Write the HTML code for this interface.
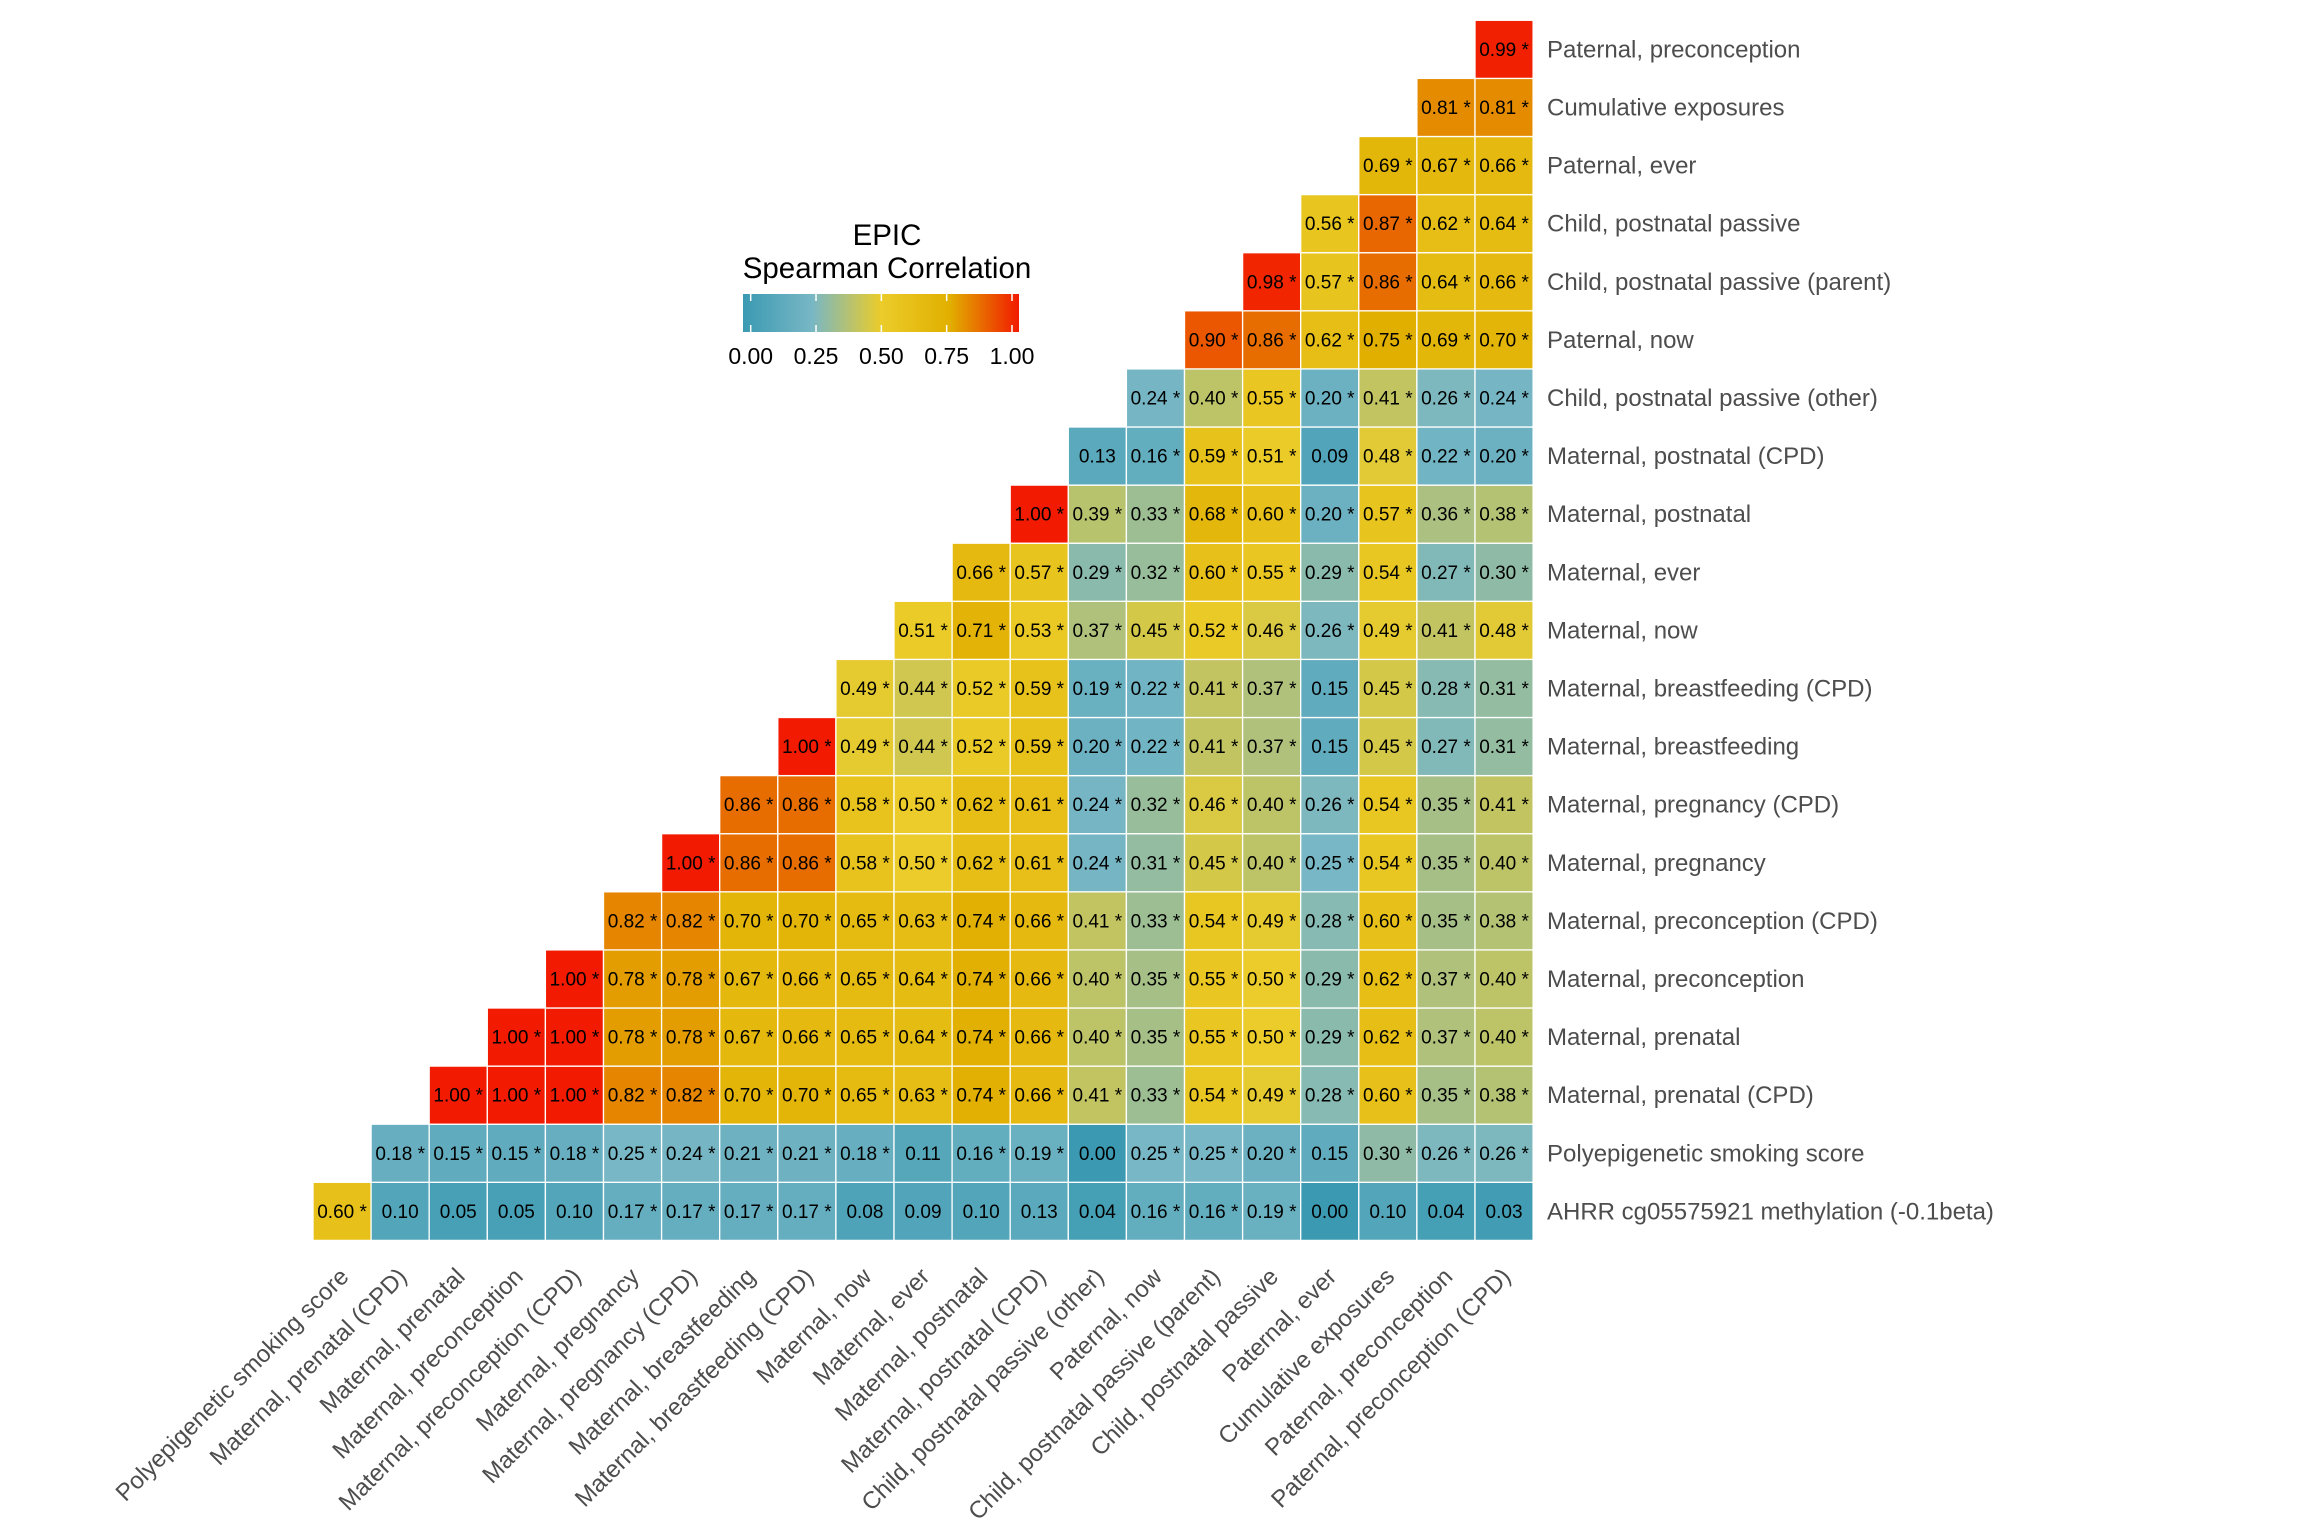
<!DOCTYPE html>
<html><head><meta charset="utf-8"><style>
html,body{margin:0;padding:0;background:#fff;}
svg{display:block;font-family:"Liberation Sans",Arial,sans-serif;}
</style></head><body>
<svg id="chart" width="2304" height="1536" viewBox="0 0 2304 1536">
<defs>
<linearGradient id="grad" x1="0" x2="1" y1="0" y2="0">
<stop offset="0" stop-color="#3B9AB2"/><stop offset="0.25" stop-color="#78B7C5"/><stop offset="0.5" stop-color="#EBCC2A"/><stop offset="0.75" stop-color="#E1AF00"/><stop offset="1" stop-color="#F21A00"/>
</linearGradient>
</defs>
<g id="cells"></g>
<g id="rowlabels"></g>
<g id="collabels"></g>
<g>
<text x="887" y="245" font-size="29.5" text-anchor="middle" fill="#000">EPIC</text>
<text x="887" y="278" font-size="29.5" text-anchor="middle" fill="#000">Spearman Correlation</text>
<rect x="743" y="294" width="276" height="38" fill="url(#grad)"/>
<g id="legticks"></g>
</g>
</svg>
<script>
const rowNames=["AHRR cg05575921 methylation (-0.1beta)","Polyepigenetic smoking score","Maternal, prenatal (CPD)","Maternal, prenatal","Maternal, preconception","Maternal, preconception (CPD)","Maternal, pregnancy","Maternal, pregnancy (CPD)","Maternal, breastfeeding","Maternal, breastfeeding (CPD)","Maternal, now","Maternal, ever","Maternal, postnatal","Maternal, postnatal (CPD)","Child, postnatal passive (other)","Paternal, now","Child, postnatal passive (parent)","Child, postnatal passive","Paternal, ever","Cumulative exposures","Paternal, preconception"];
const colNames=["Polyepigenetic smoking score","Maternal, prenatal (CPD)","Maternal, prenatal","Maternal, preconception","Maternal, preconception (CPD)","Maternal, pregnancy","Maternal, pregnancy (CPD)","Maternal, breastfeeding","Maternal, breastfeeding (CPD)","Maternal, now","Maternal, ever","Maternal, postnatal","Maternal, postnatal (CPD)","Child, postnatal passive (other)","Paternal, now","Child, postnatal passive (parent)","Child, postnatal passive","Paternal, ever","Cumulative exposures","Paternal, preconception","Paternal, preconception (CPD)"];
// rows listed bottom (k=0) to top; each row k starts at column k
const values=[
[0.60,0.10,0.05,0.05,0.10,0.17,0.17,0.17,0.17,0.08,0.09,0.10,0.13,0.04,0.16,0.16,0.19,0.00,0.10,0.04,0.03],
[0.18,0.15,0.15,0.18,0.25,0.24,0.21,0.21,0.18,0.11,0.16,0.19,0.00,0.25,0.25,0.20,0.15,0.30,0.26,0.26],
[1.00,1.00,1.00,0.82,0.82,0.70,0.70,0.65,0.63,0.74,0.66,0.41,0.33,0.54,0.49,0.28,0.60,0.35,0.38],
[1.00,1.00,0.78,0.78,0.67,0.66,0.65,0.64,0.74,0.66,0.40,0.35,0.55,0.50,0.29,0.62,0.37,0.40],
[1.00,0.78,0.78,0.67,0.66,0.65,0.64,0.74,0.66,0.40,0.35,0.55,0.50,0.29,0.62,0.37,0.40],
[0.82,0.82,0.70,0.70,0.65,0.63,0.74,0.66,0.41,0.33,0.54,0.49,0.28,0.60,0.35,0.38],
[1.00,0.86,0.86,0.58,0.50,0.62,0.61,0.24,0.31,0.45,0.40,0.25,0.54,0.35,0.40],
[0.86,0.86,0.58,0.50,0.62,0.61,0.24,0.32,0.46,0.40,0.26,0.54,0.35,0.41],
[1.00,0.49,0.44,0.52,0.59,0.20,0.22,0.41,0.37,0.15,0.45,0.27,0.31],
[0.49,0.44,0.52,0.59,0.19,0.22,0.41,0.37,0.15,0.45,0.28,0.31],
[0.51,0.71,0.53,0.37,0.45,0.52,0.46,0.26,0.49,0.41,0.48],
[0.66,0.57,0.29,0.32,0.60,0.55,0.29,0.54,0.27,0.30],
[1.00,0.39,0.33,0.68,0.60,0.20,0.57,0.36,0.38],
[0.13,0.16,0.59,0.51,0.09,0.48,0.22,0.20],
[0.24,0.40,0.55,0.20,0.41,0.26,0.24],
[0.90,0.86,0.62,0.75,0.69,0.70],
[0.98,0.57,0.86,0.64,0.66],
[0.56,0.87,0.62,0.64],
[0.69,0.67,0.66],
[0.81,0.81],
[0.99]];
const sig=[
[1,0,0,0,0,1,1,1,1,0,0,0,0,0,1,1,1,0,0,0,0],
[1,1,1,1,1,1,1,1,1,0,1,1,0,1,1,1,0,1,1,1],
[1,1,1,1,1,1,1,1,1,1,1,1,1,1,1,1,1,1,1],
[1,1,1,1,1,1,1,1,1,1,1,1,1,1,1,1,1,1],
[1,1,1,1,1,1,1,1,1,1,1,1,1,1,1,1,1],
[1,1,1,1,1,1,1,1,1,1,1,1,1,1,1,1],
[1,1,1,1,1,1,1,1,1,1,1,1,1,1,1],
[1,1,1,1,1,1,1,1,1,1,1,1,1,1],
[1,1,1,1,1,1,1,1,1,0,1,1,1],
[1,1,1,1,1,1,1,1,0,1,1,1],
[1,1,1,1,1,1,1,1,1,1,1],
[1,1,1,1,1,1,1,1,1,1],
[1,1,1,1,1,1,1,1,1],
[0,1,1,1,0,1,1,1],
[1,1,1,1,1,1,1],
[1,1,1,1,1,1],
[1,1,1,1,1],
[1,1,1,1],
[1,1,1],
[1,1],
[1]];
const legendTicks=[0,0.25,0.5,0.75,1];

const NS="http://www.w3.org/2000/svg";
const X0=313, Y0=20.3, CELL=58.1, N=21;
const xCol=c=>X0+c*CELL;
const yRow=k=>Y0+(N-1-k)*CELL;
const stops=[[0,[0x3B,0x9A,0xB2]],[0.25,[0x78,0xB7,0xC5]],[0.5,[0xEB,0xCC,0x2A]],[0.75,[0xE1,0xAF,0x00]],[1,[0xF2,0x1A,0x00]]];
function color(v){v=Math.max(0,Math.min(1,v));
 for(let i=0;i<stops.length-1;i++){const [a,ca]=stops[i],[b,cb]=stops[i+1];
  if(v<=b){const t=(v-a)/(b-a);return "rgb("+ca.map((x,j)=>Math.round(x+(cb[j]-x)*t)).join(",")+")";}}
 return "rgb(242,26,0)";}
function mk(tag,attrs,parent){const e=document.createElementNS(NS,tag);for(const k in attrs)e.setAttribute(k,attrs[k]);parent.appendChild(e);return e;}
const gC=document.getElementById('cells');
values.forEach((row,k)=>{row.forEach((v,i)=>{const c=k+i;
 const r=mk('rect',{x:xCol(c),y:yRow(k),width:CELL,height:CELL,fill:color(v),stroke:'#ffffff','stroke-width':1.3},gC);
 
 
 const t=mk('text',{x:xCol(c)+CELL/2,y:yRow(k)+CELL/2+6.5,'font-size':19,'text-anchor':'middle',fill:'#000'},gC);
 t.textContent=v.toFixed(2)+(sig[k][i]?" *":"");
 
 
});});
const gR=document.getElementById('rowlabels');
rowNames.forEach((n,k)=>{const t=mk('text',{x:1547,y:yRow(k)+CELL/2+8,'font-size':24,fill:'#4d4d4d'},gR);
 t.textContent=n;
 
 });
const gX=document.getElementById('collabels');
colNames.forEach((n,c)=>{const x=xCol(c)+CELL/2+8, y=1278;
 const t=mk('text',{x:x,y:y,'font-size':24,fill:'#4d4d4d','text-anchor':'end',transform:'rotate(-45 '+x+' '+y+')'},gX);
 t.textContent=n;
 
 });
const gL=document.getElementById('legticks');
const lx=v=>750.7+v*(1012-750.7);
legendTicks.forEach(v=>{
 const l1=mk('line',{x1:lx(v),x2:lx(v),y1:294,y2:301,stroke:'#fff','stroke-width':1.5},gL);
 
 
 const l2=mk('line',{x1:lx(v),x2:lx(v),y1:325,y2:332,stroke:'#fff','stroke-width':1.5},gL);
 
 
 const t=mk('text',{x:lx(v),y:364,'font-size':23,'text-anchor':'middle',fill:'#000'},gL);
 t.textContent=v.toFixed(2);
 
 });
</script>
</body></html>
